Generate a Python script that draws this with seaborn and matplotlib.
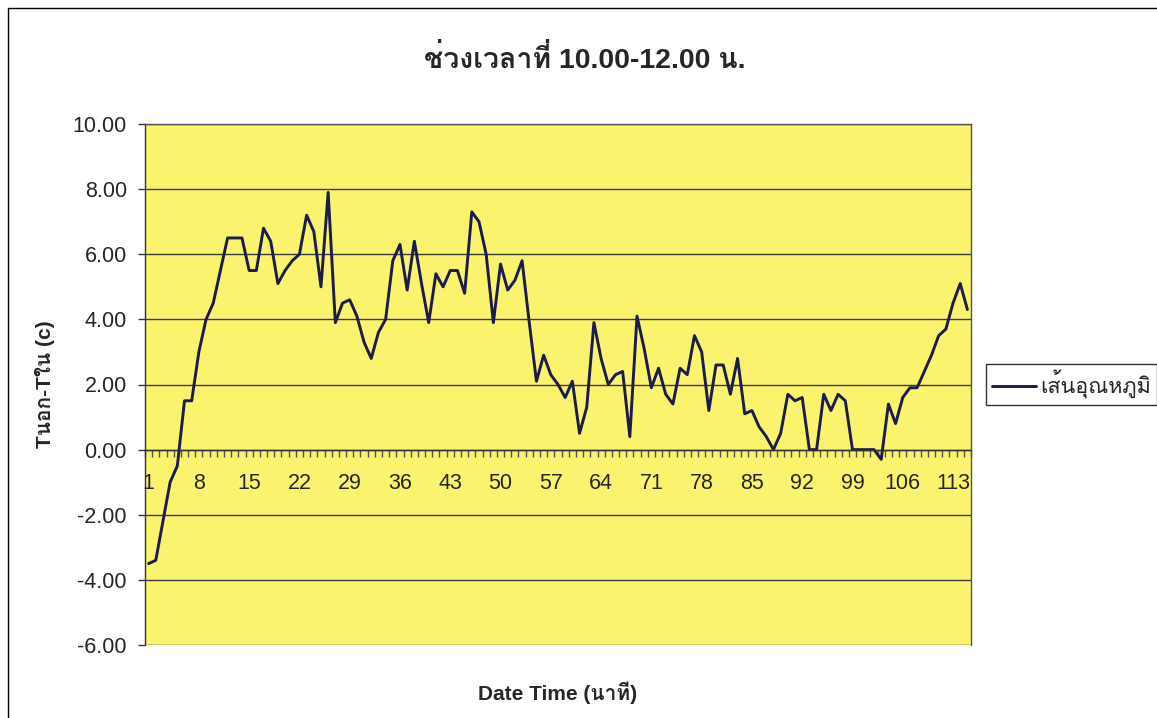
import matplotlib
matplotlib.use("Agg")
import matplotlib.pyplot as plt
from matplotlib import font_manager
from matplotlib.ft2font import FT2Font
from matplotlib.patches import Rectangle
from matplotlib.ticker import FixedLocator, FormatStrFormatter
import seaborn as sns

# minute index (category) and T outside - T inside
minutes = list(range(1, 116))
temp_diff = [
    -3.5, -3.4, -2.2, -1.0, -0.5, 1.5, 1.5, 3.0, 4.0, 4.5,
    5.5, 6.5, 6.5, 6.5, 5.5, 5.5, 6.8, 6.4, 5.1, 5.5,
    5.8, 6.0, 7.2, 6.7, 5.0, 7.9, 3.9, 4.5, 4.6, 4.1,
    3.3, 2.8, 3.6, 4.0, 5.8, 6.3, 4.9, 6.4, 5.1, 3.9,
    5.4, 5.0, 5.5, 5.5, 4.8, 7.3, 7.0, 6.0, 3.9, 5.7,
    4.9, 5.2, 5.8, 3.9, 2.1, 2.9, 2.3, 2.0, 1.6, 2.1,
    0.5, 1.3, 3.9, 2.8, 2.0, 2.3, 2.4, 0.4, 4.1, 3.1,
    1.9, 2.5, 1.7, 1.4, 2.5, 2.3, 3.5, 3.0, 1.2, 2.6,
    2.6, 1.7, 2.8, 1.1, 1.2, 0.7, 0.4, 0.0, 0.5, 1.7,
    1.5, 1.6, 0.0, 0.0, 1.7, 1.2, 1.7, 1.5, 0.0, 0.0,
    0.0, 0.0, -0.3, 1.4, 0.8, 1.6, 1.9, 1.9, 2.4, 2.9,
    3.5, 3.7, 4.5, 5.1, 4.3,
]
x_tick_labels = [str(m) for m in range(1, 116, 7)]
y_ticks = [-6, -4, -2, 0, 2, 4, 6, 8, 10]

title = "ช่วงเวลาที่ 10.00-12.00 น."
x_title = "Date Time (นาที)"
y_title = "Tนอก-Tใน (c)"
series_name = "เส้นอุณหภูมิ"


def find_thai_font():
    """return the name of an installed font that has Thai glyphs, or None"""
    for f in font_manager.fontManager.ttflist:
        try:
            if 0x0E01 in FT2Font(f.fname).get_charmap():
                return f.name
        except Exception:
            continue
    return None


sns.set_theme(style="white")
families = ["Liberation Sans"]
thai = find_thai_font()
if thai:
    families.append(thai)
families.append("DejaVu Sans")
plt.rcParams["font.family"] = families

W, H = 1157, 718
fig = plt.figure(figsize=(W / 100, H / 100), dpi=100)
fig.patch.set_facecolor("white")

# plot area in pixels: left 145, right 971, top 124, bottom 645
ax = fig.add_axes([145 / W, 1 - 645 / H, (971 - 145) / W, (645 - 124) / H])
ax.set_facecolor("#faf36e")

sns.lineplot(x=minutes, y=temp_diff, ax=ax, color="#1c1b4d", linewidth=2.1,
             label=series_name)

ax.set_xlim(0.5, len(minutes) + 0.5)
ax.set_ylim(-6, 10)

# y axis
ax.set_yticks(y_ticks)
ax.yaxis.set_major_formatter(FormatStrFormatter("%.2f"))
ax.tick_params(axis="y", direction="out", length=5, width=1, color="#333333",
               pad=8, labelsize=15.5, left=True)
ax.grid(axis="y", color="#3a3a3a", linewidth=1)
ax.grid(axis="x", visible=False)

# x axis crosses at zero, labels every 7 categories
ax.spines["bottom"].set_position(("data", 0))
ax.set_xticks(list(range(1, 116, 7)))
ax.set_xticklabels(x_tick_labels)
ax.xaxis.set_minor_locator(FixedLocator([m + 0.5 for m in range(0, 116)]))
ax.tick_params(axis="x", which="major", length=0, pad=17, labelsize=15.5)
ax.tick_params(axis="x", which="minor", direction="out", length=5, width=1,
               color="#555555", bottom=True)

for side in ["left", "bottom"]:
    ax.spines[side].set_color("#333333")
    ax.spines[side].set_linewidth(1)
for side in ["top", "right"]:
    ax.spines[side].set_color("#555555")
    ax.spines[side].set_linewidth(1)

ax.set_xlabel(x_title, fontsize=15, fontweight="bold")
ax.xaxis.set_label_coords(0.5, -(693 - 645) / (645 - 124))
ax.xaxis.label.set_va("center")
ax.set_ylabel(y_title, fontsize=15, fontweight="bold")
ax.yaxis.set_label_coords(-(145 - 45) / (971 - 145), 0.5)
ax.yaxis.label.set_va("center")

fig.text(585 / W, 1 - 60 / H, title, ha="center", va="center",
         fontsize=20.5, fontweight="bold")

leg = ax.legend(loc="center left", bbox_to_anchor=(986 / W, 1 - 384.5 / H),
                bbox_transform=fig.transFigure, borderaxespad=0,
                frameon=True, fancybox=False, fontsize=15.5,
                handlelength=2.0, handletextpad=0.2, borderpad=0.3)
leg.get_frame().set_edgecolor("black")
leg.get_frame().set_linewidth(1)

# outer chart border (only top and left visible in the scan)
fig.add_artist(Rectangle((8 / W, -0.1), 1.2, 1 - 8 / H + 0.1,
                         transform=fig.transFigure, fill=False,
                         edgecolor="black", linewidth=1.0))

fig.savefig("out.png", dpi=100)
